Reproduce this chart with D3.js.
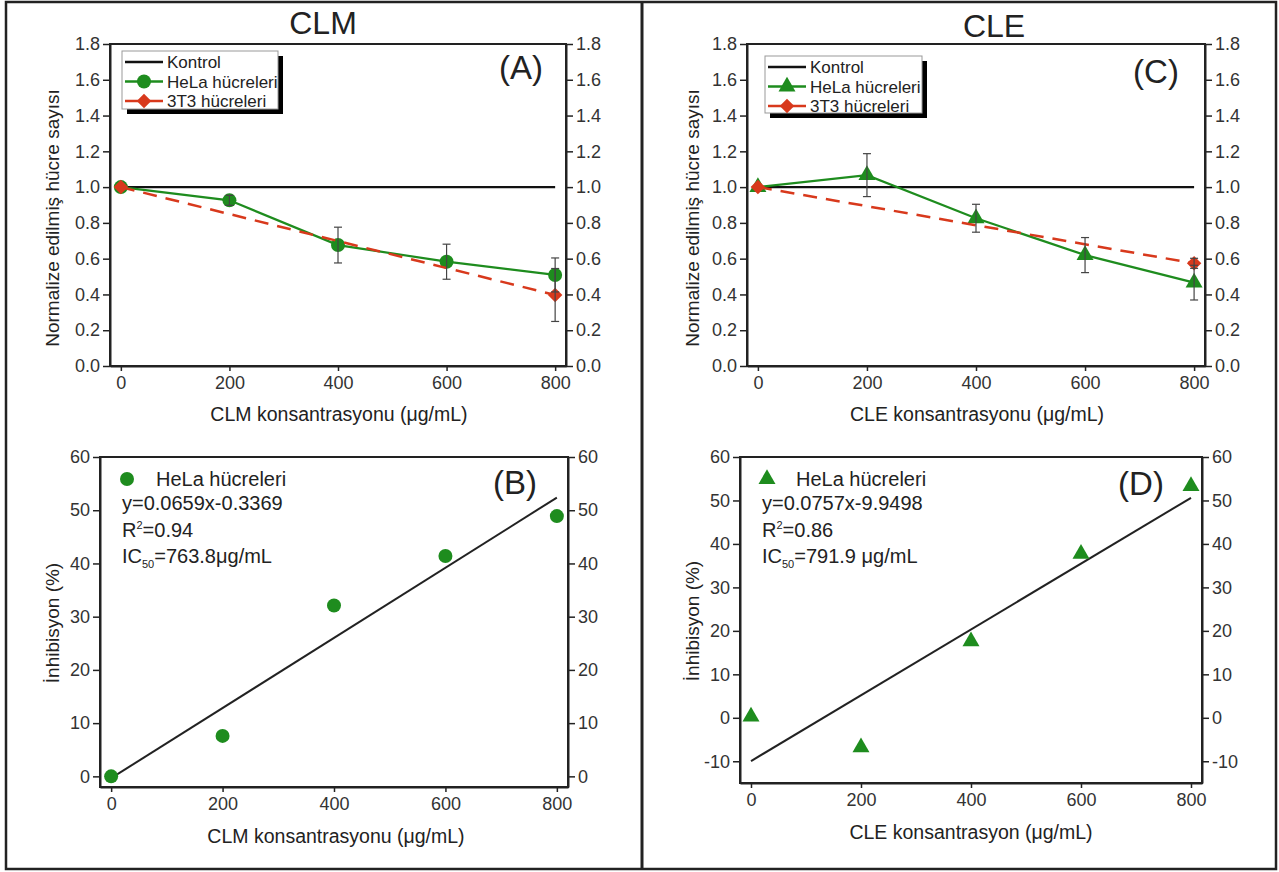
<!DOCTYPE html>
<html lang="tr">
<head>
<meta charset="UTF-8">
<title>CLM / CLE</title>
<script src="https://d3js.org/d3.v7.min.js"></script>
<style>
    body { margin: 0; background: #fff; }
    svg text { font-family: "Liberation Sans", Arial, sans-serif; fill: #222; }
    .tick text { font-size: 18px; fill: #333; }
    .tick line, .domain { stroke: #222; }
</style>
</head>
<body>
<div id="chart"></div>
<script>
// --- data ---
const concentrations = [0, 200, 400, 600, 800];
const kontrolX = [0, 800];
const kontrolY = [1.0, 1.0];

// panel A (CLM)
const helaCLM = [1.0, 0.926, 0.676, 0.583, 0.509];
const helaCLMErr = [0, 0.028, 0.1, 0.098, 0.095];
const t3t3CLMx = [0, 800];
const t3t3CLM = [1.0, 0.397];
const t3t3CLMErr = [0, 0.148];

// panel C (CLE)
const helaCLE = [1.0, 1.067, 0.826, 0.62, 0.466];
const helaCLEErr = [0, 0.12, 0.078, 0.098, 0.097];
const t3t3CLEx = [0, 800];
const t3t3CLE = [1.0, 0.574];
const t3t3CLEErr = [0, 0.028];

// panels B and D (inhibition %)
const inhibCLM = [0, 7.6, 32.1, 41.4, 48.9];
const inhibCLE = [0.3, -6.8, 17.6, 37.7, 53.3];
const fitX = [0, 800];
const fitCLM = [-0.34, 52.38];
const fitCLE = [-9.95, 50.61];

const xTicks = [0, 200, 400, 600, 800];
const yTicksNorm = [0, 0.2, 0.4, 0.6, 0.8, 1.0, 1.2, 1.4, 1.6, 1.8];
const yTicksB = [0, 10, 20, 30, 40, 50, 60];
const yTicksD = [-10, 0, 10, 20, 30, 40, 50, 60];

const green = "#1e8c1e";
const red = "#d8391c";

const W = 1279, H = 872;
const svg = d3.select("#chart").append("svg")
    .attr("width", W).attr("height", H);

// outer frame and divider
svg.append("rect").attr("x", 6).attr("y", 2).attr("width", 1270).attr("height", 867)
    .attr("fill", "none").attr("stroke", "#222").attr("stroke-width", 2.5);
svg.append("line").attr("x1", 642).attr("x2", 642).attr("y1", 2).attr("y2", 869)
    .attr("stroke", "#222").attr("stroke-width", 3);

function makePanel(p) {
    var x = d3.scaleLinear().domain([-20, 820]).range([p.left, p.right]);
    var y = d3.scaleLinear().domain(p.yDomain).range([p.bottom, p.top]);
    var g = svg.append("g");

    // plot frame
    g.append("rect").attr("x", p.left).attr("y", p.top)
        .attr("width", p.right - p.left).attr("height", p.bottom - p.top)
        .attr("fill", "none").attr("stroke", "#222").attr("stroke-width", 2);

    var fmt = p.yFormat;
    g.append("g").attr("transform", "translate(" + p.left + ",0)")
        .call(d3.axisLeft(y).tickValues(p.yTicks).tickFormat(fmt).tickSize(7).tickSizeOuter(0).tickPadding(3));
    g.append("g").attr("transform", "translate(" + p.right + ",0)")
        .call(d3.axisRight(y).tickValues(p.yTicks).tickFormat(fmt).tickSize(7).tickSizeOuter(0).tickPadding(3));
    g.append("g").attr("transform", "translate(0," + p.bottom + ")")
        .call(d3.axisBottom(x).tickValues(xTicks).tickFormat(d3.format("d")).tickSize(5).tickSizeOuter(0).tickPadding(5));
    g.selectAll(".domain").attr("stroke-width", 2);
    g.selectAll(".tick line").attr("stroke-width", 1.5);

    // axis titles
    g.append("text")
        .attr("transform", "translate(" + p.yLabelX + "," + ((p.top + p.bottom) / 2 + p.yLabelShift) + ") rotate(-90)")
        .attr("text-anchor", "middle").attr("font-size", "19px").text(p.yLabel);
    g.append("text").attr("x", (p.left + p.right) / 2 + p.xLabelShift).attr("y", p.xLabelY)
        .attr("text-anchor", "middle").attr("font-size", "19.5px").text(p.xLabel);

    // panel letter
    g.append("text").attr("x", p.letterX).attr("y", p.letterY)
        .attr("text-anchor", "middle").attr("font-size", "33px").text(p.letter);

    return {x: x, y: y, g: g};
}

function marker(sel, shape, cx, cy, color) {
    if (shape === "circle") {
        sel.append("circle").attr("cx", cx).attr("cy", cy).attr("r", 7).attr("fill", color);
    } else if (shape === "triangle") {
        sel.append("path").attr("transform", "translate(" + cx + "," + cy + ")")
            .attr("d", d3.symbol().type(d3.symbolTriangle).size(125)).attr("fill", color);
    } else {
        sel.append("path").attr("transform", "translate(" + cx + "," + cy + ") rotate(45)")
            .attr("d", d3.symbol().type(d3.symbolSquare).size(105)).attr("fill", color);
    }
}

function errorBars(g, x, y, xs, ys, es) {
    xs.forEach(function(xv, i) {
        if (!es[i]) return;
        var px = x(xv), y1 = y(ys[i] + es[i]), y2 = y(ys[i] - es[i]);
        g.append("line").attr("x1", px).attr("x2", px).attr("y1", y1).attr("y2", y2)
            .attr("stroke", "#444").attr("stroke-width", 1.2);
        [y1, y2].forEach(function(yy) {
            g.append("line").attr("x1", px - 4).attr("x2", px + 4).attr("y1", yy).attr("y2", yy)
                .attr("stroke", "#444").attr("stroke-width", 1.2);
        });
    });
}

function topPanel(p, hela, helaErr, t3x, t3, t3Err, shape) {
    var c = makePanel(p);
    var g = c.g, x = c.x, y = c.y;
    var line = d3.line().x(function(d) { return x(d[0]); }).y(function(d) { return y(d[1]); });

    g.append("path").datum(d3.zip(kontrolX, kontrolY)).attr("d", line)
        .attr("fill", "none").attr("stroke", "#111").attr("stroke-width", 2.2);
    g.append("path").datum(d3.zip(concentrations, hela)).attr("d", line)
        .attr("fill", "none").attr("stroke", green).attr("stroke-width", 2.2);
    concentrations.forEach(function(cv, i) { marker(g, shape, x(cv), y(hela[i]), green); });
    g.append("path").datum(d3.zip(t3x, t3)).attr("d", line)
        .attr("fill", "none").attr("stroke", red).attr("stroke-width", 2.5)
        .attr("stroke-dasharray", "14,9");
    t3x.forEach(function(cv, i) { marker(g, "diamond", x(cv), y(t3[i]), red); });
    errorBars(g, x, y, concentrations, hela, helaErr);
    errorBars(g, x, y, t3x, t3, t3Err);

    // legend with drop shadow
    var L = p.legend;
    g.append("rect").attr("x", L.x + 5).attr("y", L.y + 5).attr("width", L.w).attr("height", L.h).attr("fill", "#000");
    g.append("rect").attr("x", L.x).attr("y", L.y).attr("width", L.w).attr("height", L.h)
        .attr("fill", "#fff").attr("stroke", "#999").attr("stroke-width", 1);
    var items = [
        {name: "Kontrol", color: "#111", shape: null},
        {name: "HeLa hücreleri", color: green, shape: shape},
        {name: "3T3 hücreleri", color: red, shape: "diamond"}
    ];
    items.forEach(function(it, i) {
        var yy = L.y + 11 + i * 19.5;
        g.append("line").attr("x1", L.x + 3).attr("x2", L.x + 41).attr("y1", yy).attr("y2", yy)
            .attr("stroke", it.color).attr("stroke-width", 2.5);
        if (it.shape) marker(g, it.shape, L.x + 22, yy, it.color);
        g.append("text").attr("x", L.x + 45).attr("y", yy + 6).attr("font-size", "17px").text(it.name);
    });
}

function bottomPanel(p, inhib, fit, shape, eq, r2, ic) {
    var c = makePanel(p);
    var g = c.g, x = c.x, y = c.y;
    var line = d3.line().x(function(d) { return x(d[0]); }).y(function(d) { return y(d[1]); });
    g.append("path").datum(d3.zip(fitX, fit)).attr("d", line)
        .attr("fill", "none").attr("stroke", "#222").attr("stroke-width", 2);
    concentrations.forEach(function(cv, i) { marker(g, shape, x(cv), y(inhib[i]), green); });

    var tx = p.left + 22;
    marker(g, shape, p.left + 27, p.top + 22, green);
    g.append("text").attr("x", p.left + 56).attr("y", p.top + 29).attr("font-size", "20px").text("HeLa hücreleri");
    g.append("text").attr("x", tx).attr("y", p.top + 53).attr("font-size", "20px").text(eq);
    var t2 = g.append("text").attr("x", tx).attr("y", p.top + 80).attr("font-size", "20px");
    t2.append("tspan").text("R");
    t2.append("tspan").attr("font-size", "11px").attr("dy", -8).text("2");
    t2.append("tspan").attr("dy", 8).text(r2);
    var t3 = g.append("text").attr("x", tx).attr("y", p.top + 106).attr("font-size", "20px");
    t3.append("tspan").text("IC");
    t3.append("tspan").attr("font-size", "11px").attr("dy", 5).text("50");
    t3.append("tspan").attr("dy", -5).text(ic);
}

// hyphen instead of unicode minus, as in the figure
var fmt1 = function(d) { return d3.format(".1f")(d).replace("−", "-"); };
var fmt0 = function(d) { return d3.format("d")(d).replace("−", "-"); };

// titles
svg.append("text").attr("x", 323).attr("y", 34).attr("text-anchor", "middle").attr("font-size", "32px").text("CLM");
svg.append("text").attr("x", 994).attr("y", 37).attr("text-anchor", "middle").attr("font-size", "32px").text("CLE");

topPanel({left: 110, right: 566, top: 44, bottom: 366, yDomain: [0, 1.8], yTicks: yTicksNorm, yFormat: fmt1,
    yLabel: "Normalize edilmiş hücre sayısı", yLabelX: 59, yLabelShift: 13,
    xLabel: "CLM konsantrasyonu (μg/mL)", xLabelY: 421, xLabelShift: 1,
    letter: "(A)", letterX: 521, letterY: 79,
    legend: {x: 122, y: 51, w: 156, h: 58}},
    helaCLM, helaCLMErr, t3t3CLMx, t3t3CLM, t3t3CLMErr, "circle");

topPanel({left: 747, right: 1205, top: 44, bottom: 366, yDomain: [0, 1.8], yTicks: yTicksNorm, yFormat: fmt1,
    yLabel: "Normalize edilmiş hücre sayısı", yLabelX: 699, yLabelShift: 13,
    xLabel: "CLE konsantrasyonu (μg/mL)", xLabelY: 421, xLabelShift: 1,
    letter: "(C)", letterX: 1156, letterY: 83,
    legend: {x: 765, y: 56, w: 157, h: 57}},
    helaCLE, helaCLEErr, t3t3CLEx, t3t3CLE, t3t3CLEErr, "triangle");

bottomPanel({left: 100, right: 568, top: 457, bottom: 787, yDomain: [-2, 60], yTicks: yTicksB, yFormat: fmt0,
    yLabel: "İnhibisyon (%)", yLabelX: 59, yLabelShift: 1,
    xLabel: "CLM konsantrasyonu (μg/mL)", xLabelY: 843, xLabelShift: 2,
    letter: "(B)", letterX: 515, letterY: 494},
    inhibCLM, fitCLM, "circle", "y=0.0659x-0.3369", "=0.94", "=763.8μg/mL");

bottomPanel({left: 740, right: 1202, top: 457, bottom: 783, yDomain: [-15, 60], yTicks: yTicksD, yFormat: fmt0,
    yLabel: "İnhibisyon (%)", yLabelX: 699, yLabelShift: 1,
    xLabel: "CLE konsantrasyon (μg/mL)", xLabelY: 839, xLabelShift: 0,
    letter: "(D)", letterX: 1141, letterY: 495},
    inhibCLE, fitCLE, "triangle", "y=0.0757x-9.9498", "=0.86", "=791.9 μg/mL");
</script>
</body>
</html>
